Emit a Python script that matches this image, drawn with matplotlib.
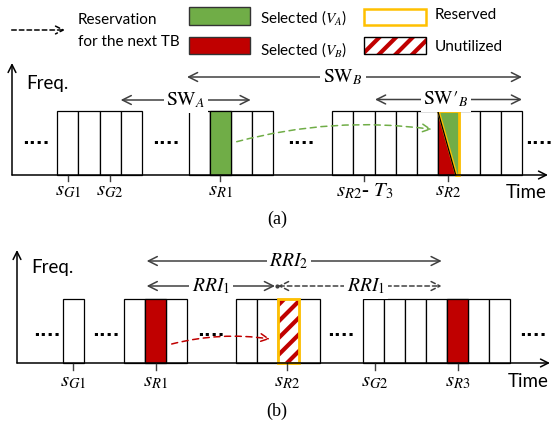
import matplotlib
matplotlib.use("Agg")
import matplotlib.pyplot as plt
from matplotlib.patches import Rectangle, Polygon

plt.rcParams['mathtext.fontset'] = 'stix'
plt.rcParams['hatch.linewidth'] = 3.0
plt.rcParams['hatch.color'] = '#C00000'

GREEN = '#70AD47'
RED = '#C00000'
ORANGE = '#FFC000'
GRAY = '#404040'
SANS = 'Lato'

# panel (a): slot groups (left edge, number of slots)
a_starts = [57.3, 189.0, 332.3]
a_counts = [4, 4, 9]
a_w = 21.1
a_top, a_base = 111, 175
a_green = (1, 1)      # group, slot
a_split = (2, 5)
a_dots = [36, 166, 301, 539]
a_ticks = [68, 110.3, 220, 364.3, 447.7]
a_labels = [r'$s_{G1}$', r'$s_{G2}$', r'$s_{R1}$', r'$s_{R2}$- $T_3$', r'$s_{R2}$']

# panel (b)
b_starts = [63.3, 124.3, 235.7, 362.7]
b_counts = [1, 3, 4, 7]
b_w = 21.0
b_top, b_base = 299, 363
b_red = [(1, 1), (3, 4)]
b_hatch = (2, 2)
b_dots = [47, 106, 211, 341, 533]
b_ticks = [73.3, 155.7, 286.7, 375, 457.7]
b_labels = [r'$s_{G1}$', r'$s_{R1}$', r'$s_{R2}$', r'$s_{G2}$', r'$s_{R3}$']


def arrow(ax, p0, p1, color=GRAY, ls='-', style='->', lw=1.1, rad=0.0, ms=16):
    ax.annotate('', xy=p1, xytext=p0,
                arrowprops=dict(arrowstyle=style, color=color, lw=lw, ls=ls,
                                shrinkA=0, shrinkB=0, mutation_scale=ms,
                                connectionstyle='arc3,rad=%s' % rad))


def span(ax, x0, x1, y, label, both=True, ls='-'):
    arrow(ax, (x0, y), (x1, y), style='<->' if both else '->', ls=ls)
    ax.text((x0 + x1) / 2 if label[1] is None else label[1], y, label[0],
            ha='center', va='center', fontsize=14,
            bbox=dict(fc='white', ec='none', pad=2))


def slots(ax, starts, counts, w, top, base):
    rects = {}
    for g, (s, n) in enumerate(zip(starts, counts)):
        for i in range(n):
            x = s + i * w
            ax.add_patch(Rectangle((x, top), w, base - top, fc='white',
                                   ec='black', lw=0.9))
            rects[(g, i)] = x
    return rects


def axes_frame(ax, x0, ytop, base, xend, fy, ty):
    arrow(ax, (x0, base), (x0, ytop), color='black', lw=1.1, ms=14)
    arrow(ax, (x0, base), (xend, base), color='black', lw=1.1, ms=14)
    ax.text(x0 + 14, fy, 'Freq.', family=SANS, fontsize=13.5, va='center')
    ax.text(xend - 1, ty, 'Time', family=SANS, fontsize=13.5, va='center', ha='right')


fig = plt.figure(figsize=(5.54, 4.36), dpi=100)
ax = fig.add_axes([0, 0, 1, 1])
ax.set_xlim(0, 554)
ax.set_ylim(436, 0)
ax.axis('off')

# ---- legend ----
arrow(ax, (11.7, 30), (65, 30), color='black', ls=(0, (3, 2)), lw=1.1, ms=14)
ax.text(78, 20, 'Reservation', family=SANS, fontsize=11, va='center')
ax.text(78, 42, 'for the next TB', family=SANS, fontsize=11, va='center')
ax.add_patch(Rectangle((189, 7.5), 61, 17.5, fc=GREEN, ec='#333333', lw=1))
ax.add_patch(Rectangle((189, 37), 61, 17, fc=RED, ec='#333333', lw=1))
ax.text(260, 18, r'Selected ($V_A$)', family=SANS, fontsize=11, va='center')
ax.text(260, 50, r'Selected ($V_B$)', family=SANS, fontsize=11, va='center')
ax.add_patch(Rectangle((364, 9), 61.7, 16, fc='white', ec=ORANGE, lw=1.8))
ax.add_patch(Rectangle((364, 37), 61.7, 17, fc='white', ec=RED, lw=0, hatch='//'))
ax.add_patch(Rectangle((364, 37), 61.7, 17, fill=False, ec='black', lw=1))
ax.text(435, 15, 'Reserved', family=SANS, fontsize=11, va='center')
ax.text(435, 47, 'Unutilized', family=SANS, fontsize=11, va='center')

# ---- panel (a) ----
ra = slots(ax, a_starts, a_counts, a_w, a_top, a_base)
xg = ra[a_green]
ax.add_patch(Rectangle((xg, a_top), a_w, a_base - a_top, fc=GREEN, ec='black', lw=0.9))
xs = ra[a_split]
xd = xs + 0.85 * a_w
ax.add_patch(Polygon([(xs, a_top), (xs, a_base), (xd, a_base)], closed=True,
                     fc=RED, ec='black', lw=0.9))
ax.add_patch(Polygon([(xs, a_top), (xs + a_w, a_top), (xs + a_w, a_base), (xd, a_base)],
                     closed=True, fc=GREEN, ec=ORANGE, lw=2))
ax.plot([xs, xd], [a_top, a_base], color='black', lw=0.9)
axes_frame(ax, 12, 63, a_base, 548, 83, 192)
for x in a_dots:
    ax.text(x, 139, '....', ha='center', va='center', fontsize=13, fontweight='bold')
for x, lab in zip(a_ticks, a_labels):
    ax.plot([x, x], [a_base, a_base + 6.5], color=GRAY, lw=1)
    ax.text(x, 191, lab, ha='center', va='center', fontsize=15, family='Liberation Serif')
span(ax, 187, 522, 77, (r'$\mathrm{SW}_B$', 343))
span(ax, 120.7, 250.7, 100, (r'$\mathrm{SW}_A$', 186))
span(ax, 375, 522, 99.5, (r"$\mathrm{SW}\prime_B$", 446))
arrow(ax, (236.7, 141.7), (431.7, 129.3), color=GREEN, ls=(0, (4, 3)), rad=-0.1, ms=14)
ax.text(277, 219, '(a)', ha='center', va='center', fontsize=13, family='Liberation Serif')

# ---- panel (b) ----
rb = slots(ax, b_starts, b_counts, b_w, b_top, b_base)
for k in b_red:
    ax.add_patch(Rectangle((rb[k], b_top), b_w, b_base - b_top, fc=RED, ec='black', lw=0.9))
xh = rb[b_hatch]
ax.add_patch(Rectangle((xh, b_top), b_w, b_base - b_top, fc='white', ec=RED, lw=0, hatch='//'))
ax.add_patch(Rectangle((xh, b_top), b_w, b_base - b_top, fill=False, ec=ORANGE, lw=2))
axes_frame(ax, 17, 250, b_base, 550, 267, 381)
for x in b_dots:
    ax.text(x, 331, '....', ha='center', va='center', fontsize=13, fontweight='bold')
for x, lab in zip(b_ticks, b_labels):
    ax.plot([x, x], [b_base, b_base + 6.5], color=GRAY, lw=1)
    ax.text(x, 381, lab, ha='center', va='center', fontsize=15)
span(ax, 146.7, 441.7, 261, (r'$RRI_2$', 289))
span(ax, 146.7, 275, 286, (r'$RRI_1$', 211))
arrow(ax, (278, 286), (441.7, 286), style='<->', ls=(0, (3, 2)))
ax.text(366, 286, r'$RRI_1$', ha='center', va='center', fontsize=14,
        bbox=dict(fc='white', ec='none', pad=2))
ax.plot([276.5], [286], 'o', color=GRAY, ms=2)
arrow(ax, (171.7, 344), (270, 339), color=RED, ls=(0, (4, 3)), rad=-0.1, ms=14)
ax.text(277, 411, '(b)', ha='center', va='center', fontsize=13, family='Liberation Serif')

fig.savefig('out.png', dpi=100)
